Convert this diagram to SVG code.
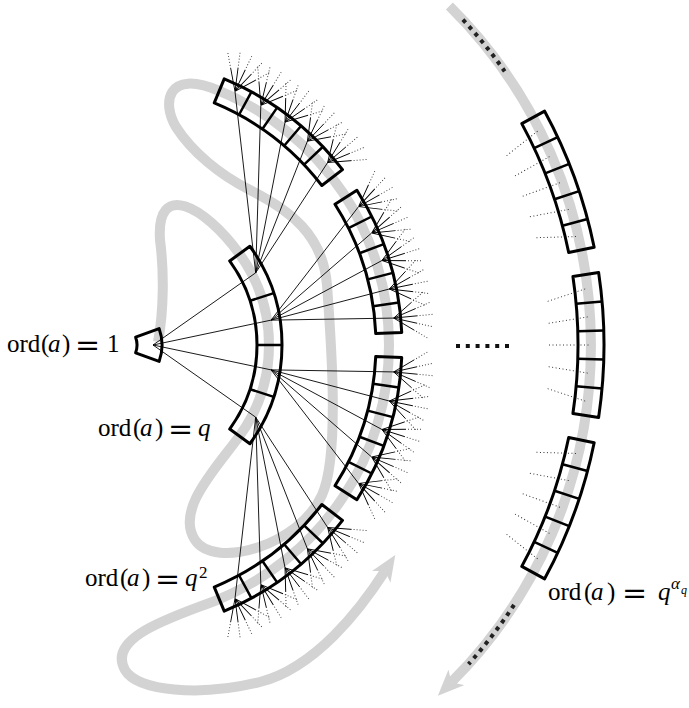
<svg xmlns="http://www.w3.org/2000/svg" xmlns:xlink="http://www.w3.org/1999/xlink" width="689" height="708" viewBox="0 0 689 708">
<style>
.g{fill:none;stroke:#d3d3d3;stroke-width:10}
.dk{fill:none;stroke:#222;stroke-width:4;stroke-dasharray:4 5}
.ln{fill:none;stroke:#000;stroke-width:0.9}
.box{fill:none;stroke:#000;stroke-width:3;stroke-linejoin:round}
.dv{fill:none;stroke:#000;stroke-width:2.5}
.lab{font-family:"Liberation Serif","Times New Roman",serif;font-size:25px;fill:#000}
.it{font-style:italic}
.eq{font-family:"DejaVu Serif",serif;font-size:30px}
</style>
<defs>
<marker id="ga" markerUnits="userSpaceOnUse" viewBox="0 0 26 22" refX="7" refY="11" markerWidth="26" markerHeight="22" orient="auto"><path d="M0 0 L26 11 L0 22 L7 11 Z" fill="#d3d3d3"/></marker>
<g id="fan">
<path d="M281 0l19.42-14.11M281 0l22.83-7.42M281 0l24 0M281 0l22.83 7.42M281 0l19.42 14.11" fill="none" stroke="#000" stroke-width="0.9"/>
<path d="M302.03-15.28l11.33-8.23M305.73-8.03l13.31-4.33M307 0l14 0M305.73 8.03l13.31 4.33M302.03 15.28l11.33 8.23" fill="none" stroke="#444" stroke-width="1" stroke-dasharray="1 2"/>
</g>
<g id="obox">
<use xlink:href="#fan" transform="rotate(-12)"/>
<use xlink:href="#fan" transform="rotate(-6)"/>
<use xlink:href="#fan"/>
<use xlink:href="#fan" transform="rotate(6)"/>
<use xlink:href="#fan" transform="rotate(12)"/>
<path d="M278.19-74.54A288 288 0 0 1 278.19 74.54L253.07 67.81A262 262 0 0 0 253.07-67.81Z" fill="none" stroke="#000" stroke-width="3" stroke-linejoin="round"/>
<path d="M261.64-13.71L287.61-15.07M261.64 13.71L287.61 15.07M258.77-40.98L284.45-45.05M258.77 40.98L284.45 45.05" fill="none" stroke="#000" stroke-width="2.5"/>
</g>
<g id="fbox">
<path d="M433.68-43.65L471.66-56.24M434.69-21.71L474.16-28.17M435 0L475 0M434.69 21.71L474.16 28.17M433.68 43.65L471.66 56.24" fill="none" stroke="#333" stroke-width="1" stroke-dasharray="1 2.5"/>
<path d="M484.62-72.43A490 490 0 0 1 484.62 72.43L458.91 68.58A464 464 0 0 0 458.91-68.58Z" fill="none" stroke="#000" stroke-width="3" stroke-linejoin="round"/>
<path d="M463.8-13.76L489.78-14.53M463.8 13.76L489.78 14.53M462.16-41.25L488.06-43.56M462.16 41.25L488.06 43.56" fill="none" stroke="#000" stroke-width="2.5"/>
</g>
</defs>

<g id="tour">
<path class="g" marker-end="url(#ga)" d="M158 342 C164 310 164 270 160 240 C156 180 204.1 205.4 239.4 253.9 A155 155 0 0 1 239.4 436.1 C215.9 468.5 175 510 195 540 C215 570 300 545 322 495 C340 455 331 340 327 285 C323 235 290 210 250 190 C220 175 192 152 176 127 C162 104 166 68 219.24 90.93 A275 275 0 0 1 219.24 599.07 C182.2 614.4 105 635 125 670 C137 691 200 697 260 682 C315 668 360 610 385 571"/>
<path class="g" marker-end="url(#ga)" d="M449.4 6 A477 477 0 0 1 451.3 682.3"/>
<path class="dk" d="M462.9 19.7 A477 477 0 0 1 504.7 71.4"/>
<path class="dk" d="M514 604.8 A477 477 0 0 1 468.5 664.2"/>
</g>

<g id="connectors" transform="translate(114 345)" class="ln">
<path d="M39 0L141.67-72.18M39 0L157.04-24.87M39 0L157.04 24.87M39 0L141.67 72.18"/>
<path d="M141.67-72.18L213.68-182.5M141.67-72.18L193.43-203.83M141.67-72.18L171.06-222.93M141.67-72.18L146.82-239.59M141.67-72.18L120.97-253.63"/>
<path d="M157.04-24.87L279.71-26.93M157.04-24.87L275.36-56.02M157.04-24.87L267.99-84.5M157.04-24.87L257.69-112.05M157.04-24.87L244.57-138.37"/>
<path d="M157.04 24.87L279.71 26.93M157.04 24.87L275.36 56.02M157.04 24.87L267.99 84.5M157.04 24.87L257.69 112.05M157.04 24.87L244.57 138.37"/>
<path d="M141.67 72.18L213.68 182.5M141.67 72.18L193.43 203.83M141.67 72.18L171.06 222.93M141.67 72.18L146.82 239.59M141.67 72.18L120.97 253.63"/>
</g>

<g id="node-1" transform="translate(114 345)">
<path class="box" d="M45.11-16.42A48 48 0 0 1 45.11 16.42L21.61 7.87A23 23 0 0 0 21.61-7.87Z"/>
</g>
<g id="ring-q" transform="translate(114 345)">
<path class="box" d="M135.91-98.75A168 168 0 0 1 135.91 98.75L115.69 84.05A143 143 0 0 0 115.69-84.05Z"/>
<path class="dv" d="M143 0L168 0M136-44.19L159.78-51.91M136 44.19L159.78 51.91"/>
</g>
<g id="ring-q2-a"><use xlink:href="#obox" transform="translate(114 345) rotate(-52.5)"/></g>
<g id="ring-q2-b"><use xlink:href="#obox" transform="translate(114 345) rotate(-17.5)"/></g>
<g id="ring-q2-c"><use xlink:href="#obox" transform="translate(114 345) rotate(17.5)"/></g>
<g id="ring-q2-d"><use xlink:href="#obox" transform="translate(114 345) rotate(52.5)"/></g>
<g id="ring-qa-a"><use xlink:href="#fbox" transform="translate(114 345) rotate(-20)"/></g>
<g id="ring-qa-b"><use xlink:href="#fbox" transform="translate(114 345)"/></g>
<g id="ring-qa-c"><use xlink:href="#fbox" transform="translate(114 345) rotate(20)"/></g>

<g id="ellipsis"><path d="M456 346L510 346" fill="none" stroke="#111" stroke-width="4" stroke-dasharray="4 5.8"/></g>

<g id="labels" class="lab">
<text y="352"><tspan x="7">ord</tspan><tspan x="41">(</tspan><tspan x="48" class="it">a</tspan><tspan x="62">)</tspan><tspan x="75" class="eq" dy="3">=</tspan><tspan x="107" dy="-3">1</tspan></text>
<text y="436"><tspan x="98">ord</tspan><tspan x="133">(</tspan><tspan x="140" class="it">a</tspan><tspan x="155">)</tspan><tspan x="168" class="eq" dy="3">=</tspan><tspan x="198" class="it" dy="-3">q</tspan></text>
<text y="586"><tspan x="85">ord</tspan><tspan x="120">(</tspan><tspan x="127" class="it">a</tspan><tspan x="142">)</tspan><tspan x="155" class="eq" dy="3">=</tspan><tspan x="185" class="it" dy="-3">q</tspan><tspan x="199" dy="-8" style="font-size:17px">2</tspan></text>
<text y="600"><tspan x="548">ord</tspan><tspan x="584">(</tspan><tspan x="591" class="it">a</tspan><tspan x="607">)</tspan><tspan x="622" class="eq" dy="3">=</tspan><tspan x="658" class="it" dy="-3">q</tspan><tspan x="671" class="it" dy="-11" style="font-size:17px">α</tspan><tspan x="681" class="it" dy="5" style="font-size:12px">q</tspan></text>
</g>
</svg>
